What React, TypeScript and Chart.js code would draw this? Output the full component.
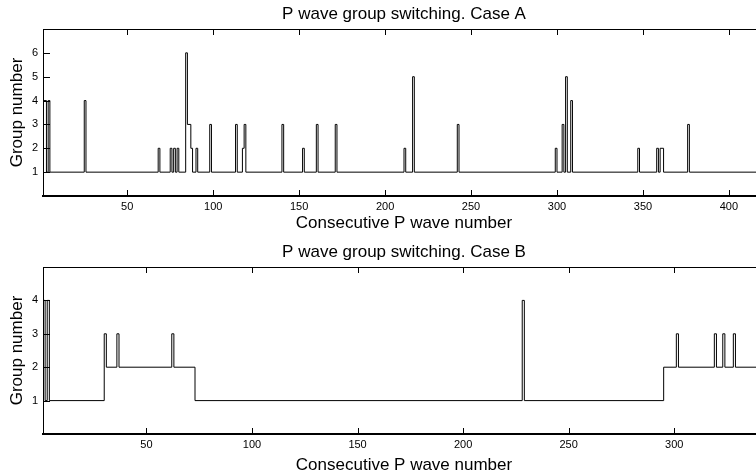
import React, { useEffect, useRef } from "react";
import { Chart, registerables } from "chart.js";

Chart.register(...registerables);

const FONT = "'Liberation Sans', Arial, Helvetica, sans-serif";

// Case A: P wave index where the group changes, and the new group number
const CASE_A_X = [1, 3, 4, 5, 25, 26, 68, 69, 75, 76, 77, 78, 79, 80, 84, 85, 87, 88, 90, 91, 98, 99, 113, 114, 117, 118, 119, 140, 141, 152, 153, 160, 161, 171, 172, 211, 212, 216, 217, 242, 243, 299, 300, 303, 304, 305, 306, 308, 309, 347, 348, 358, 359, 360, 362, 376, 377, 421];
const CASE_A_GROUP = [4, 1, 4, 1, 4, 1, 2, 1, 2, 1, 2, 1, 2, 1, 6, 3, 2, 1, 2, 1, 3, 1, 3, 1, 2, 3, 1, 3, 1, 2, 1, 3, 1, 3, 1, 2, 1, 5, 1, 3, 1, 2, 1, 3, 1, 5, 1, 4, 1, 2, 1, 2, 1, 2, 1, 3, 1, 1];
const CASE_A_XTICKS = [50, 100, 150, 200, 250, 300, 350, 400];
const CASE_A_YTICKS = [1, 2, 3, 4, 5, 6];

// Case B
const CASE_B_X = [1, 2, 3, 4, 30, 31, 36, 37, 62, 63, 73, 228, 229, 295, 301, 302, 319, 320, 323, 324, 328, 329, 343];
const CASE_B_GROUP = [4, 1, 4, 1, 3, 2, 3, 2, 3, 2, 1, 4, 1, 2, 3, 2, 3, 2, 3, 2, 3, 2, 2];
const CASE_B_XTICKS = [50, 100, 150, 200, 250, 300];
const CASE_B_YTICKS = [1, 2, 3, 4];

const TITLE_A = "P wave group switching. Case A";
const TITLE_B = "P wave group switching. Case B";
const X_TITLE = "Consecutive P wave number";
const Y_TITLE = "Group number";

const innerTicks = {
  id: "innerTicks",
  afterDatasetsDraw(chart: any) {
    const { ctx, chartArea: a, scales } = chart;
    ctx.save();
    ctx.strokeStyle = "#000";
    ctx.lineWidth = 1;
    ctx.beginPath();
    const top = Math.round(a.top) + 0.5;
    ctx.moveTo(a.left, top);
    ctx.lineTo(a.right + 2, top);
    for (const t of scales.x.ticks) {
      const px = Math.round(scales.x.getPixelForValue(t.value)) + 0.5;
      ctx.moveTo(px, a.top);
      ctx.lineTo(px, a.top + 6);
      ctx.moveTo(px, a.bottom);
      ctx.lineTo(px, a.bottom - 6);
    }
    for (const t of scales.y.ticks) {
      const py = Math.round(scales.y.getPixelForValue(t.value)) + 0.5;
      ctx.moveTo(a.left, py);
      ctx.lineTo(a.left + 7, py);
    }
    ctx.stroke();
    ctx.restore();
  },
};

function makeConfig(
  title: string,
  xs: number[],
  ys: number[],
  xMax: number,
  yMax: number,
  xTicks: number[],
  yTicks: number[],
  xTitleBottom: number
): any {
  return {
    type: "line",
    data: {
      datasets: [
        {
          data: xs.map((x, i) => ({ x, y: ys[i] })),
          borderColor: "#000",
          borderWidth: 1,
          pointRadius: 0,
          stepped: "before",
          fill: false,
        },
      ],
    },
    options: {
      animation: false,
      responsive: false,
      layout: { padding: { left: 0, right: 5, top: 0, bottom: 0 } },
      plugins: {
        legend: { display: false },
        tooltip: { enabled: false },
        title: {
          display: true,
          text: title,
          fullSize: false,
          color: "#000",
          font: { family: FONT, size: 17, weight: "normal" },
          padding: { top: 4, bottom: 4.6 },
        },
      },
      scales: {
        x: {
          type: "linear",
          min: 1,
          max: xMax,
          afterBuildTicks: (s: any) => {
            s.ticks = xTicks.map((v) => ({ value: v }));
          },
          afterFit: (s: any) => {
            s.height = 42;
          },
          grid: { display: true, drawOnChartArea: false, drawTicks: false },
          border: { display: true, color: "#000", width: 2 },
          ticks: {
            color: "#000",
            padding: 4,
            maxRotation: 0,
            autoSkip: false,
            font: { family: FONT, size: 11 },
          },
          title: {
            display: true,
            text: X_TITLE,
            color: "#000",
            font: { family: FONT, size: 17 },
            padding: { top: 0, bottom: xTitleBottom },
          },
        },
        y: {
          type: "linear",
          min: 0,
          max: yMax,
          afterBuildTicks: (s: any) => {
            s.ticks = yTicks.map((v) => ({ value: v }));
          },
          afterFit: (s: any) => {
            s.width = 43;
          },
          grid: { display: true, drawOnChartArea: false, drawTicks: false },
          border: { display: true, color: "#000", width: 1 },
          ticks: {
            color: "#000",
            padding: 5,
            autoSkip: false,
            font: { family: FONT, size: 11 },
          },
          title: {
            display: true,
            text: Y_TITLE,
            color: "#000",
            font: { family: FONT, size: 17 },
            padding: { top: 7, bottom: 0 },
          },
        },
      },
    },
    plugins: [innerTicks],
  };
}

function PlotCanvas(props: { cfg: () => any; top: number }) {
  const ref = useRef<HTMLCanvasElement | null>(null);
  useEffect(() => {
    if (!ref.current) return;
    const chart = new Chart(ref.current, props.cfg());
    return () => chart.destroy();
  }, []);
  return (
    <canvas
      ref={ref}
      width={770}
      height={238}
      style={{ position: "absolute", left: 0, top: props.top, width: 770, height: 238, display: "block" }}
    />
  );
}

export default function App() {
  return (
    <div
      style={{
        position: "fixed",
        left: 0,
        top: 0,
        width: 756,
        height: 476,
        overflow: "hidden",
        background: "#fff",
      }}
    >
      <PlotCanvas
        top={0}
        cfg={() => makeConfig(TITLE_A, CASE_A_X, CASE_A_GROUP, 421, 7, CASE_A_XTICKS, CASE_A_YTICKS, 4)}
      />
      <PlotCanvas
        top={238}
        cfg={() => makeConfig(TITLE_B, CASE_B_X, CASE_B_GROUP, 343, 5, CASE_B_XTICKS, CASE_B_YTICKS, 0)}
      />
    </div>
  );
}
